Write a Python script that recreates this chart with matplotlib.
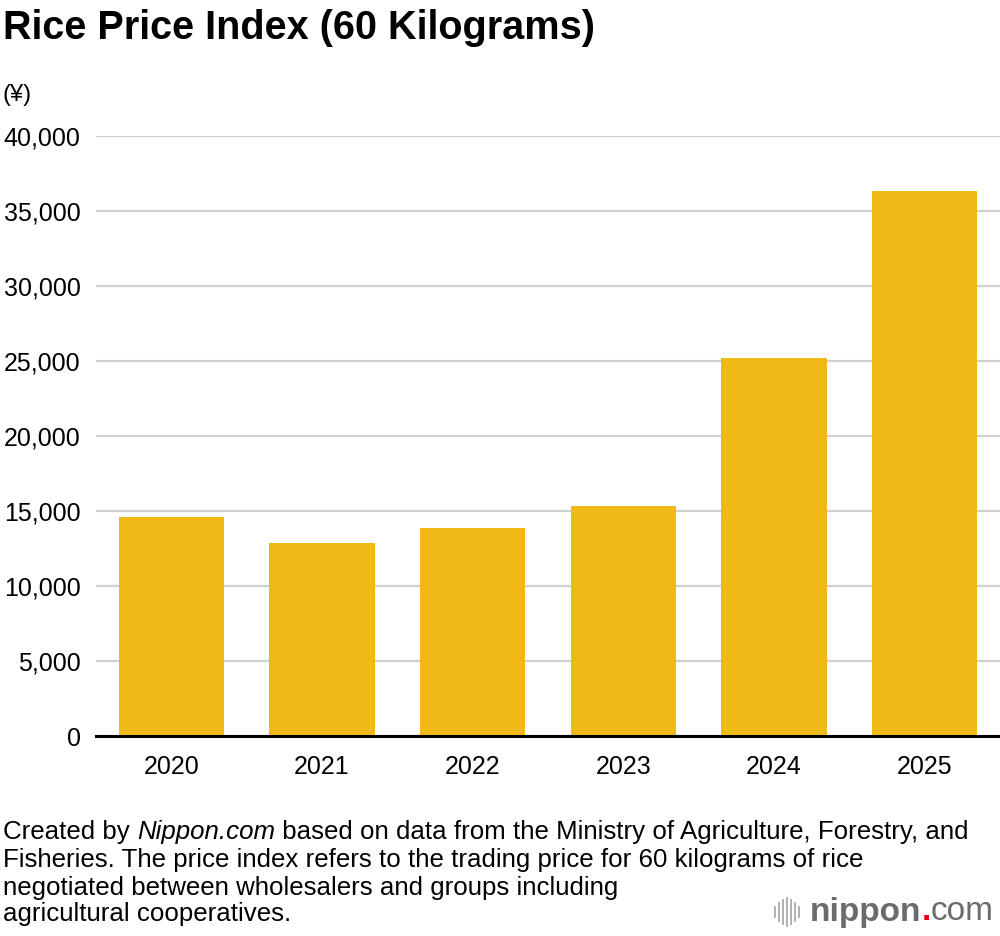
import matplotlib.pyplot as plt
from matplotlib.ticker import FuncFormatter
import numpy as np

plt.rcParams['font.family'] = ['Liberation Sans', 'DejaVu Sans']

years = ["2020", "2021", "2022", "2023", "2024", "2025"]
prices = [14580, 12840, 13870, 15350, 25220, 36330]
y_ticks = [0, 5000, 10000, 15000, 20000, 25000, 30000, 35000, 40000]

title = "Rice Price Index (60 Kilograms)"
unit = "(¥)"
note_lines = [
    ["Created by ", "Nippon.com", " based on data from the Ministry of Agriculture, Forestry, and"],
    ["Fisheries. The price index refers to the trading price for 60 kilograms of rice"],
    ["negotiated between wholesalers and groups including"],
    ["agricultural cooperatives."],
]

fig = plt.figure(figsize=(10, 9.36), dpi=100)
W, H = 1000, 936
ax = fig.add_axes([96 / W, 1 - 736 / H, 904 / W, 600 / H])

x = np.arange(len(years))
ax.bar(x, prices, width=0.70, color="#F0BA16", zorder=3)

ax.set_xlim(-0.5, len(years) - 0.5)
ax.set_ylim(0, 40000)
ax.set_yticks(y_ticks)
ax.yaxis.set_major_formatter(FuncFormatter(lambda v, p: f"{int(v):,}"))
ax.set_xticks(x)
ax.set_xticklabels(years)
ax.tick_params(axis="both", length=0, labelsize=18, colors="black")
ax.tick_params(axis="y", pad=11)
ax.tick_params(axis="x", pad=14)
ax.grid(axis="y", color="#d0d0d0", linewidth=1.6, zorder=0)
for s in ["top", "right", "left"]:
    ax.spines[s].set_visible(False)
ax.spines["bottom"].set_linewidth(2.2)
ax.spines["bottom"].set_zorder(4)

fig.text(3 / W, 1 - 28 / H, title, fontsize=28.5, fontweight="bold", va="center", ha="left")
fig.text(3 / W, 1 - 95 / H, unit, fontsize=17, va="center", ha="left")

# footnote, line by line (first line has an italic piece)
fig.canvas.draw()
line_y = [832, 860, 888, 914]
for parts, yy in zip(note_lines, line_y):
    xpos = 3
    for part in parts:
        style = "italic" if part == "Nippon.com" else "normal"
        t = fig.text(xpos / W, 1 - yy / H, part, fontsize=18.6, style=style,
                     va="center", ha="left")
        fig.canvas.draw()
        xpos = t.get_window_extent().x1

# nippon.com logo
for i, h in enumerate([10, 18, 24, 28, 24, 18, 10]):
    xx = (775 + i * 4) / W
    fig.add_artist(plt.Line2D([xx, xx], [1 - (912 + h / 2) / H, 1 - (912 - h / 2) / H],
                              color="#b0b0b0", linewidth=1.4, transform=fig.transFigure))
t1 = fig.text(810 / W, 1 - 912 / H, "nippon", fontsize=24, fontweight="bold", color="#6b6b6b",
              va="center", ha="left")
fig.canvas.draw()
bb = t1.get_window_extent()
t2 = fig.text(bb.x1 / W, 1 - 912 / H, ".", fontsize=24, fontweight="bold", color="#e60012",
              va="center", ha="left")
fig.canvas.draw()
bb2 = t2.get_window_extent()
fig.text(bb2.x1 / W, 1 - 912 / H, "com", fontsize=24, color="#6b6b6b", va="center", ha="left")

fig.savefig("out.png", dpi=100)
